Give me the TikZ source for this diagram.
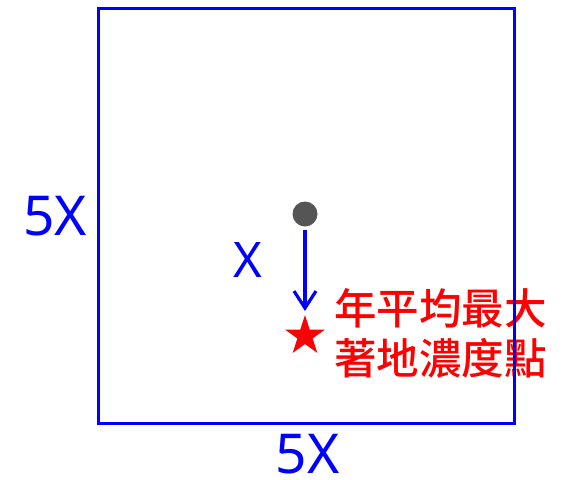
\documentclass[tikz,border=0pt]{standalone}
\usepackage{fontspec}
\setmainfont{Noto Sans}
\newfontfamily\cjk[UprightFont={* Medium}]{Noto Sans CJK TC}
\usetikzlibrary{shapes.geometric,arrows.meta}
\definecolor{pblue}{RGB}{0,0,255}
\definecolor{pred}{RGB}{255,0,0}
\definecolor{dotgray}{RGB}{85,85,85}
\tikzset{
  bluelabel/.style={text=pblue,inner sep=0pt,font=\fontsize{55}{60}\selectfont},
  redlabel/.style={text=pred,inner sep=0pt,anchor=base west,font=\cjk\fontsize{42.5}{49}\selectfont},
  boxline/.style={draw=pblue,line width=2.5pt},
  arrowline/.style={draw=pblue,line width=3.2pt,-{Straight Barb[length=17pt,width=22pt]}}
}
\begin{document}
\begin{tikzpicture}[x=1pt,y=-1pt]
\useasboundingbox (0,0) rectangle (566,480);
\node[redlabel] (l1) at (334,324) {年平均最大};
\node[redlabel] (l2) at (334,374) {著地濃度點};
\node[bluelabel,anchor=base] (left) at (55,235) {5X};
\node[bluelabel,anchor=base] (bottom) at (307.5,473) {5X};
\node[bluelabel,anchor=base,font=\fontsize{49}{55}\selectfont] (x) at (247.5,277) {X};
\node[boxline,minimum width=416pt,minimum height=415pt,inner sep=0pt,anchor=north west] (box) at (97,7) {};
\node[circle,fill=dotgray,minimum size=25pt,inner sep=0pt] (dot) at (305,214) {};
\node[star,star points=5,star point ratio=2.618,fill=pred,minimum size=42pt,inner sep=0pt] (star) at (305,336) {};
\draw[arrowline] (dot.south) ++(0,3) -- (305,311);
\end{tikzpicture}
\end{document}
